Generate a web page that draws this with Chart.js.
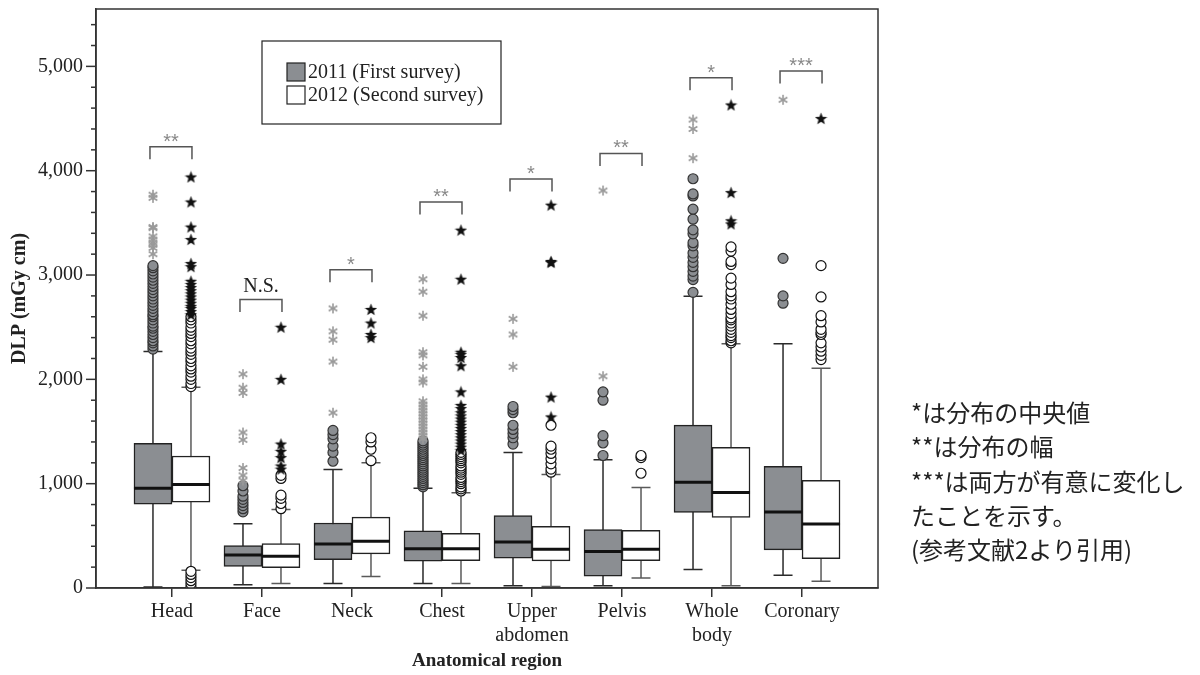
<!DOCTYPE html>
<html lang="ja">
<head>
  <meta charset="UTF-8">
  <title>DLP by anatomical region</title>
  <script src="https://cdn.jsdelivr.net/npm/chart.js"></script>
  <style>
    html, body { margin: 0; padding: 0; background: #fff; }
    #wrap { position: relative; width: 1200px; height: 675px; }
    #note {
      position: absolute; left: 911px; top: 395px;
      font-family: "Noto Sans CJK JP", sans-serif; font-size: 24px;
      line-height: 34.3px; color: #222; white-space: nowrap;
    }
  </style>
</head>
<body>
<div id="wrap">
  <canvas id="boxChart" width="1200" height="675"></canvas>
  <div id="note">
    *は分布の中央値<br>
    **は分布の幅<br>
    ***は両方が有意に変化し<br>
    たことを示す。<br>
    (参考文献2より引用)
  </div>
</div>

<script>
  // categories and tick labels
  const categories = ['Head', 'Face', 'Neck', 'Chest', ['Upper', 'abdomen'], 'Pelvis', ['Whole', 'body'], 'Coronary'];
  const yStep = 200;

  // 2011 (first survey) box statistics
  const q1_2011  = [804, 208, 272, 256, 285, 113, 724, 365];
  const med_2011 = [957, 317, 422, 377, 441, 351, 1014, 728];
  const q3_2011  = [1387, 406, 623, 549, 695, 559, 1561, 1167];
  const lo_2011  = [10, 31, 43, 43, 21, 21, 177, 122];
  const hi_2011  = [2268, 616, 1135, 957, 1300, 1230, 2796, 2342];

  // 2012 (second survey) box statistics
  const q1_2012  = [823, 196, 327, 263, 260, 263, 676, 282];
  const med_2012 = [991, 304, 447, 377, 371, 371, 915, 613];
  const q3_2012  = [1265, 425, 680, 523, 590, 552, 1348, 1033];
  const lo_2012  = [170, 43, 110, 43, 14, 97, 21, 65];
  const hi_2012  = [1924, 753, 1201, 912, 1087, 963, 2342, 2106];

  // outliers (circles) and extremes (stars), per region
  const out_2011 = [
    [2290, 2320, 2350, 2370, 2400, 2430, 2460, 2490, 2510, 2540, 2570, 2600, 2620, 2650, 2680, 2710, 2740, 2770, 2800, 2830, 2860, 2890, 2920, 2950, 2980, 3010, 3040, 3070, 3090],
    [730, 760, 790, 820, 850, 880, 930, 980],
    [1215, 1300, 1360, 1430, 1470, 1510],
    [970, 990, 1010, 1030, 1050, 1070, 1090, 1110, 1130, 1150, 1170, 1190, 1210, 1230, 1250, 1270, 1290, 1310, 1330, 1350, 1370, 1390, 1410],
    [1380, 1440, 1480, 1520, 1560, 1680, 1710, 1740],
    [1270, 1390, 1460, 1800, 1880],
    [2834, 2956, 2990, 3035, 3080, 3121, 3170, 3211, 3280, 3310, 3395, 3433, 3535, 3631, 3758, 3777, 3923],
    [2730, 2800, 3160]
  ];
  const ext_2011 = [
    [3200, 3260, 3290, 3310, 3340, 3370, 3450, 3460, 3740, 3770],
    [1030, 1080, 1150, 1420, 1490, 1870, 1920, 2050],
    [1680, 2170, 2380, 2460, 2680],
    [1430, 1460, 1490, 1520, 1550, 1580, 1610, 1640, 1670, 1700, 1730, 1760, 1790, 1970, 2000, 2120, 2230, 2260, 2610, 2840, 2960],
    [2120, 2430, 2580],
    [2030, 3810],
    [4120, 4400, 4490],
    [4680]
  ];
  const out_2012 = [
    [10, 40, 70, 100, 130, 160, 1930, 1960, 2000, 2030, 2070, 2100, 2130, 2170, 2200, 2240, 2270, 2300, 2340, 2370, 2410, 2440, 2470, 2500, 2540, 2570, 2600],
    [760, 810, 860, 890, 1050, 1080],
    [1220, 1330, 1400, 1440],
    [930, 950, 970, 1000, 1020, 1040, 1060, 1090, 1110, 1130, 1150, 1170, 1200, 1220, 1240, 1260, 1280, 1300],
    [1110, 1140, 1190, 1240, 1290, 1330, 1360, 1560],
    [1100, 1250, 1270],
    [2350, 2370, 2400, 2420, 2450, 2480, 2510, 2540, 2570, 2590, 2630, 2670, 2720, 2770, 2800, 2840, 2910, 2970, 3100, 3130, 3230, 3270],
    [2190, 2230, 2270, 2310, 2350, 2430, 2450, 2480, 2550, 2610, 2790, 3090]
  ];
  const ext_2012 = [
    [2620, 2650, 2680, 2700, 2730, 2760, 2790, 2820, 2850, 2880, 2910, 2940, 3080, 3110, 3340, 3460, 3700, 3940],
    [1140, 1170, 1250, 1310, 1380, 2000, 2500],
    [2400, 2430, 2540, 2670],
    [1320, 1350, 1380, 1410, 1440, 1470, 1500, 1530, 1560, 1590, 1620, 1650, 1680, 1720, 1750, 1880, 2130, 2210, 2240, 2260, 2960, 3430],
    [1640, 1830, 3120, 3130, 3670],
    [],
    [3490, 3520, 3790, 4630],
    [4500]
  ];

  // significance brackets
  const sigLabels = ['**', 'N.S.', '*', '**', '*', '**', '*', '***'];
  const sigTop = [4230, 2765, 3050, 3700, 3920, 4165, 4890, 4955];

  const GRAY = '#8b8e92';
  const SHIFT = 19 / 90;

  function pointsAt(groups, shift) {
    const pts = [];
    groups.forEach((vals, i) => vals.forEach(v => pts.push({ x: i + shift, y: v })));
    return pts;
  }

  function asteriskImg(size, color) {
    const c = document.createElement('canvas');
    c.width = c.height = size;
    const g = c.getContext('2d');
    g.strokeStyle = color;
    g.lineWidth = 1.6;
    const m = size / 2, r = size / 2 - 1;
    for (let k = 0; k < 3; k++) {
      const a = Math.PI / 2 + k * Math.PI / 3;
      g.beginPath();
      g.moveTo(m - r * Math.cos(a), m - r * Math.sin(a));
      g.lineTo(m + r * Math.cos(a), m + r * Math.sin(a));
      g.stroke();
    }
    return c;
  }

  function starImg(size, color) {
    const c = document.createElement('canvas');
    c.width = c.height = size;
    const g = c.getContext('2d');
    g.fillStyle = color;
    g.beginPath();
    for (let k = 0; k < 10; k++) {
      const r = k % 2 ? size * 0.21 : size * 0.5;
      const a = -Math.PI / 2 + k * Math.PI / 5;
      g.lineTo(size / 2 + r * Math.cos(a), size * 0.54 + r * Math.sin(a));
    }
    g.closePath();
    g.fill();
    return c;
  }

  const boxes = [
    { lo: lo_2011, hi: hi_2011, med: med_2011, whisker: '#2a2a2a' },
    { lo: lo_2012, hi: hi_2012, med: med_2012, whisker: '#5a5a5a' }
  ];

  const boxParts = {
    id: 'boxParts',
    beforeDatasetsDraw(chart) {
      const y = chart.scales.y, ctx = chart.ctx;
      boxes.forEach((s, d) => {
        chart.getDatasetMeta(d).data.forEach((bar, i) => {
          const cx = bar.x, half = bar.width / 4;
          const yh = y.getPixelForValue(s.hi[i]), yl = y.getPixelForValue(s.lo[i]);
          ctx.save();
          ctx.strokeStyle = s.whisker;
          ctx.lineWidth = 1.5;
          ctx.beginPath();
          ctx.moveTo(cx, yh); ctx.lineTo(cx, yl);
          ctx.moveTo(cx - half, yh); ctx.lineTo(cx + half, yh);
          ctx.moveTo(cx - half, yl); ctx.lineTo(cx + half, yl);
          ctx.stroke();
          ctx.restore();
        });
      });
    },
    afterDatasetsDraw(chart) {
      const y = chart.scales.y, ctx = chart.ctx;
      boxes.forEach((s, d) => {
        chart.getDatasetMeta(d).data.forEach((bar, i) => {
          const ym = y.getPixelForValue(s.med[i]);
          ctx.save();
          ctx.strokeStyle = '#111';
          ctx.lineWidth = 3;
          ctx.beginPath();
          ctx.moveTo(bar.x - bar.width / 2, ym); ctx.lineTo(bar.x + bar.width / 2, ym);
          ctx.stroke();
          ctx.restore();
        });
      });
    },
    afterDraw(chart) {
      const { ctx, chartArea: a, scales: { y } } = chart;
      ctx.save();
      // frame
      ctx.strokeStyle = '#333';
      ctx.lineWidth = 1.5;
      ctx.strokeRect(a.left, a.top, a.right - a.left, a.bottom - a.top);
      // y tick marks, long at labelled values
      y.ticks.forEach(t => {
        const py = y.getPixelForValue(t.value);
        const len = t.value % 1000 === 0 ? 10 : 5;
        ctx.beginPath();
        ctx.moveTo(a.left - len, py); ctx.lineTo(a.left, py);
        ctx.stroke();
      });
      // significance brackets
      const m0 = chart.getDatasetMeta(0).data, m1 = chart.getDatasetMeta(1).data;
      sigLabels.forEach((lab, i) => {
        const xl = m0[i].x - 3, xr = m1[i].x + 1;
        const yt = y.getPixelForValue(sigTop[i]);
        const yb = y.getPixelForValue(sigTop[i] - 120);
        ctx.strokeStyle = '#555';
        ctx.lineWidth = 1.5;
        ctx.beginPath();
        ctx.moveTo(xl, yb); ctx.lineTo(xl, yt); ctx.lineTo(xr, yt); ctx.lineTo(xr, yb);
        ctx.stroke();
        ctx.textAlign = 'center';
        if (lab === 'N.S.') {
          ctx.fillStyle = '#222';
          ctx.font = '20px "Liberation Serif"';
          ctx.textBaseline = 'middle';
          ctx.fillText(lab, (xl + xr) / 2, yt - 13);
        } else {
          ctx.fillStyle = '#888';
          ctx.font = '20px "Liberation Sans"';
          ctx.textBaseline = 'alphabetic';
          ctx.fillText(lab, (xl + xr) / 2, yt + 1);
        }
      });
      // legend
      const lx = a.left + 166, ly = a.top + 32;
      ctx.lineWidth = 1.2;
      ctx.strokeStyle = '#222';
      ctx.strokeRect(lx, ly, 239, 83);
      chart.data.datasets.slice(0, 2).forEach((ds, k) => {
        const sy = ly + 22 + k * 23;
        ctx.fillStyle = ds.backgroundColor;
        ctx.fillRect(lx + 25, sy, 18, 18);
        ctx.strokeRect(lx + 25, sy, 18, 18);
        ctx.fillStyle = '#222';
        ctx.font = '20px "Liberation Serif"';
        ctx.textAlign = 'left';
        ctx.textBaseline = 'middle';
        ctx.fillText(ds.label, lx + 46, sy + 10);
      });
      ctx.restore();
    }
  };

  const serif = { family: 'Liberation Serif', size: 20 };

  new Chart(document.getElementById('boxChart'), {
    type: 'bar',
    data: {
      datasets: [
        {
          label: '2011 (First survey)',
          data: categories.map((c, i) => ({ x: i, y: [q1_2011[i], q3_2011[i]] })),
          backgroundColor: GRAY, borderColor: '#222', borderWidth: 1.5,
          borderSkipped: false, barThickness: 38, order: 2
        },
        {
          label: '2012 (Second survey)',
          data: categories.map((c, i) => ({ x: i, y: [q1_2012[i], q3_2012[i]] })),
          backgroundColor: '#ffffff', borderColor: '#222', borderWidth: 1.5,
          borderSkipped: false, barThickness: 38, order: 2
        },
        {
          type: 'scatter', data: pointsAt(out_2011, -SHIFT), order: 1,
          pointStyle: 'circle', pointRadius: 5, backgroundColor: GRAY, borderColor: '#333', borderWidth: 1.2
        },
        {
          type: 'scatter', data: pointsAt(out_2012, SHIFT), order: 1,
          pointStyle: 'circle', pointRadius: 5, backgroundColor: '#fff', borderColor: '#111', borderWidth: 1.2
        },
        {
          type: 'scatter', data: pointsAt(ext_2011, -SHIFT), order: 0,
          pointStyle: asteriskImg(12, '#9a9a9a'), pointRadius: 6
        },
        {
          type: 'scatter', data: pointsAt(ext_2012, SHIFT), order: 0,
          pointStyle: starImg(13, '#111'), pointRadius: 6
        }
      ]
    },
    options: {
      responsive: false,
      animation: false,
      layout: { padding: { left: 0, top: 9, right: 322, bottom: 0 } },
      plugins: { legend: { display: false }, tooltip: { enabled: false } },
      scales: {
        x: {
          type: 'linear', min: -0.844, max: 7.844, offset: false, stacked: false,
          afterBuildTicks: s => { s.ticks = categories.map((c, i) => ({ value: i })); },
          afterFit: s => { s.height = 87; s.paddingLeft = 0; s.paddingRight = 0; },
          ticks: { autoSkip: false, maxRotation: 0, padding: 3, color: '#222', font: serif, callback: v => categories[v] },
          grid: { drawOnChartArea: false, offset: false, tickLength: 9, color: '#333', lineWidth: 1.5 },
          border: { color: '#333', width: 1.5 },
          title: {
            display: true, text: 'Anatomical region', color: '#222',
            font: { family: 'Liberation Serif', size: 19, weight: 'bold' }, padding: { top: 0, bottom: 3 }
          }
        },
        y: {
          min: 0, max: 5550, stacked: false,
          afterFit: s => { s.width = 96; s.paddingTop = 0; s.paddingBottom = 0; },
          ticks: {
            stepSize: yStep, includeBounds: false, autoSkip: false, padding: 13, color: '#222', font: serif,
            callback: v => v % 1000 === 0 ? v.toLocaleString('en-US') : ''
          },
          grid: { drawOnChartArea: false, drawTicks: false },
          border: { color: '#333', width: 1.5 },
          title: {
            display: true, text: 'DLP (mGy cm)', color: '#222',
            font: { family: 'Liberation Serif', size: 20, weight: 'bold' }, padding: { top: 8, bottom: 0 }
          }
        }
      }
    },
    plugins: [boxParts]
  });
</script>
</body>
</html>
